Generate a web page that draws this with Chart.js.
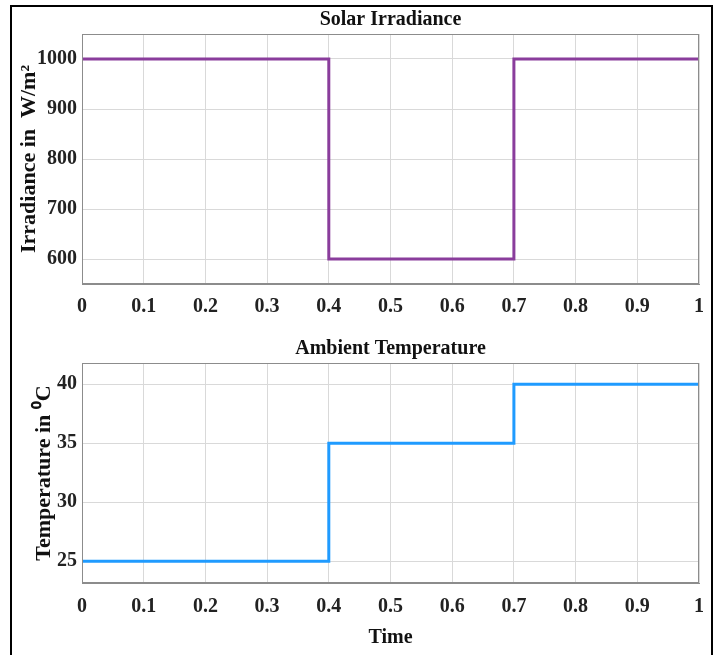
<!DOCTYPE html>
<html>
<head>
<meta charset="utf-8">
<script src="https://cdn.jsdelivr.net/npm/chart.js@4/dist/chart.umd.min.js"></script>
<style>
  body { margin: 0; background: #fff; }
  #frame { position: absolute; left: 10px; top: 5px; width: 703px; height: 660px;
           border: 2px solid #000; box-sizing: border-box; }
  canvas { position: absolute; left: 0; }
</style>
</head>
<body>
<div id="frame"></div>
<canvas id="top" width="721" height="325" style="top:0"></canvas>
<canvas id="bottom" width="721" height="330" style="top:325px"></canvas>
<script>
// step change times (s)
const time = [0, 0.4, 0.7, 1];
const irradiance = [1000, 600, 1000, 1000];
const temperature = [25, 35, 40, 40];

const xTicks = [0, 0.1, 0.2, 0.3, 0.4, 0.5, 0.6, 0.7, 0.8, 0.9, 1];
const irrTicks = [600, 700, 800, 900, 1000];
const tempTicks = [25, 30, 35, 40];

const font = (size) => ({ family: '"Liberation Serif", "Times New Roman", serif', size: size, weight: 'bold' });

// box round the plot area, like the matlab axes
const boxPlugin = {
    id: 'box',
    afterDraw(chart) {
        const a = chart.chartArea, ctx = chart.ctx;
        ctx.save();
        ctx.strokeStyle = '#8c8c8c';
        ctx.lineWidth = 1;
        ctx.strokeRect(a.left + 0.5, a.top + 0.5, a.right - a.left - 1, a.bottom - a.top - 1);
        ctx.restore();
    }
};

function makeChart(id, values, color, yTicks, yMin, yMax, opts) {
    const points = time.map((t, i) => ({ x: t, y: values[i] }));
    return new Chart(document.getElementById(id), {
        type: 'line',
        data: {
            datasets: [{
                data: points,
                stepped: true,
                borderColor: color,
                borderWidth: 3,
                pointRadius: 0,
                fill: false
            }]
        },
        options: {
            responsive: false,
            animation: false,
            layout: { padding: { left: 12, right: 22, top: 0, bottom: 0 } },
            plugins: {
                legend: { display: false },
                tooltip: { enabled: false },
                title: {
                    display: true,
                    text: opts.title,
                    fullSize: false,
                    color: '#111',
                    font: font(20),
                    padding: opts.titlePad
                }
            },
            scales: {
                x: {
                    type: 'linear',
                    min: 0,
                    max: 1,
                    afterBuildTicks: (s) => { s.ticks = xTicks.map(v => ({ value: v })); },
                    afterFit: (s) => { s.height = opts.xHeight; },
                    ticks: {
                        color: '#222',
                        font: font(20),
                        padding: opts.xTickPad,
                        maxRotation: 0,
                        callback: (v) => String(Math.round(v * 10) / 10)
                    },
                    grid: { color: '#d9d9d9', drawTicks: false },
                    border: { color: '#8c8c8c' },
                    title: {
                        display: !!opts.xTitle,
                        text: opts.xTitle || '',
                        color: '#111',
                        font: font(20),
                        padding: { top: 2, bottom: 5 }
                    }
                },
                y: {
                    min: yMin,
                    max: yMax,
                    afterBuildTicks: (s) => { s.ticks = yTicks.map(v => ({ value: v })); },
                    afterFit: (s) => { s.width = 70; },
                    ticks: { color: '#222', font: font(20), padding: 5, callback: (v) => String(v) },
                    grid: { color: '#d9d9d9', drawTicks: false },
                    border: { color: '#8c8c8c' },
                    title: {
                        display: true,
                        text: opts.yTitle,
                        color: '#111',
                        font: font(22),
                        padding: { top: opts.yTitlePad, bottom: 0 }
                    }
                }
            }
        },
        plugins: [boxPlugin]
    });
}

makeChart('top', irradiance, '#8a3d9c', irrTicks, 550, 1050, {
    title: 'Solar Irradiance',
    titlePad: { top: 8, bottom: 2 },
    xHeight: 41,
    xTickPad: 11,
    yTitle: 'Irradiance in  W/m²',
    yTitlePad: 4
});

makeChart('bottom', temperature, '#1f9bff', tempTicks, 23.15, 41.8, {
    title: 'Ambient Temperature',
    titlePad: { top: 12, bottom: 2 },
    xHeight: 72,
    xTickPad: 12,
    xTitle: 'Time',
    yTitle: 'Temperature in ⁰C',
    yTitlePad: 19
});
</script>
</body>
</html>
